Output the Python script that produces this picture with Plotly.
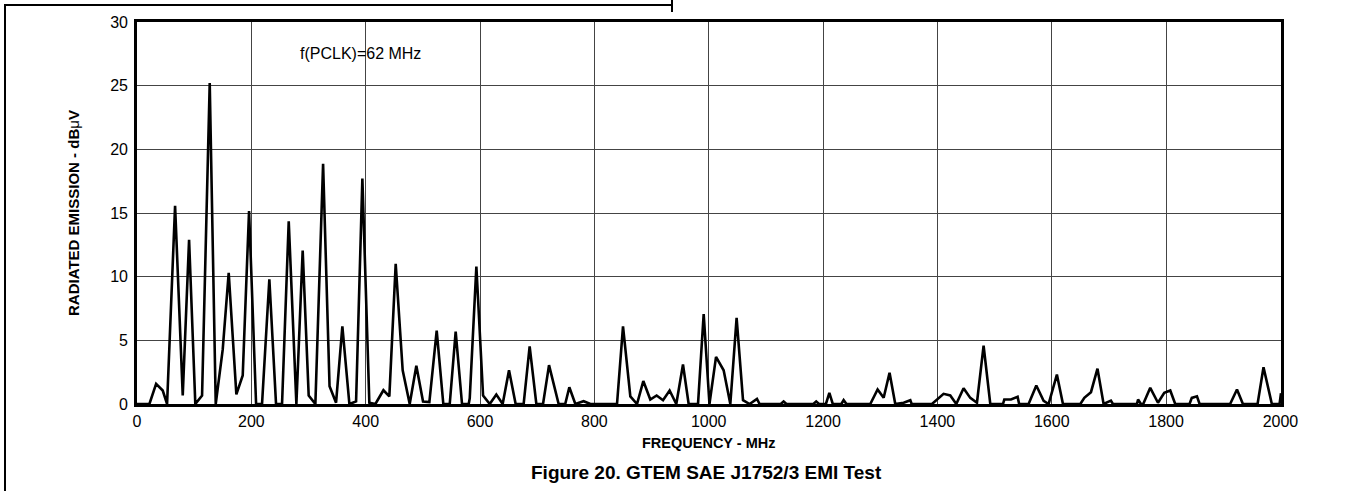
import plotly.graph_objects as go

# ---- data ----
freq_mhz = [
    0, 21.7, 33.4, 45, 52.6, 66.6, 80, 91.1, 102, 113.8, 127.2, 137.7, 149.9, 160.4,
    173.8, 184.9, 196, 208.3, 218.7, 231.5, 243.2, 253.7, 265.4, 278.8, 289.8, 300.3,
    312, 325.5, 336.8, 348.2, 359.2, 371.5, 383.2, 394.2, 406.4, 417, 431, 441.4,
    452.5, 464.7, 477, 488.6, 500.3, 511.4, 524.2, 535.8, 547, 557.4, 568.5, 580.2,
    582, 593.6, 605.3, 617, 628.5, 639.6, 650.7, 662.3, 676.3, 686.8, 698.5, 710.2,
    720.7, 737.5, 749, 756.2, 766.7, 781.2, 793, 839.6, 850.1, 862.9, 874.6, 885.6,
    897.8, 908.9, 920.1, 931.6, 943.3, 955, 964.9, 981.3, 991.2, 1001.3, 1012.8,
    1026.1, 1037.8, 1048.8, 1060, 1071.5, 1084.4, 1089, 1126, 1131, 1136, 1183, 1188,
    1193, 1205, 1211, 1217, 1232, 1236, 1241, 1282.6, 1295.4, 1306, 1316.3, 1326.3,
    1341, 1352.6, 1355, 1390.5, 1410.8, 1422.5, 1433, 1445.8, 1457.5, 1469.2, 1480.8,
    1492.5, 1514.7, 1517, 1528.7, 1540.3, 1543, 1559.5, 1573, 1585.8, 1594.5, 1609,
    1619.6, 1650, 1657, 1668.6, 1680, 1690.7, 1703.5, 1707, 1749, 1751, 1756, 1760,
    1772.3, 1785.8, 1796.8, 1807.3, 1816, 1841, 1845, 1854, 1858.6, 1912, 1924, 1934.4,
    1960, 1970.4, 1985, 1998.5, 2001,
]
emission_dbuv = [
    0, 0, 1.58, 1.06, 0, 15.57, 0.67, 12.9, 0, 0.67, 25.2, 0, 4.27, 10.3,
    0.75, 2.24, 15.15, 0, 0, 9.8, 0, 0, 14.34, 0, 12.06, 0.67,
    0, 18.86, 1.4, 0.1, 6.1, 0, 0.2, 17.7, 0.1, 0, 1.08, 0.6,
    11.0, 2.65, 0, 3.0, 0.2, 0.15, 5.76, 0, 0, 5.69, 0, 0,
    0.45, 10.8, 0.67, 0, 0.75, 0, 2.65, 0, 0, 4.53, 0, 0,
    3.05, 0, 0, 1.32, 0, 0.22, 0, 0, 6.1, 0.6, 0, 1.8,
    0.35, 0.67, 0.3, 1.06, 0, 3.1, 0, 0, 7.07, 0, 3.7,
    2.65, 0, 6.76, 0.3, 0, 0.4, 0, 0, 0.2, 0, 0, 0.2,
    0, 0, 0.88, 0, 0, 0.3, 0, 0, 1.14, 0.49, 2.45, 0,
    0.1, 0.3, 0, 0, 0.8, 0.67, 0, 1.24, 0.48, 0.1, 4.59,
    0, 0, 0.35, 0.35, 0.56, 0, 0, 1.45, 0.25, 0, 2.31,
    0, 0, 0.48, 0.93, 2.78, 0, 0.27, 0, 0, 0.35, 0, 0,
    1.27, 0.1, 0.88, 1.06, 0, 0, 0.48, 0.6, 0, 0, 1.14, 0,
    0, 2.89, 0, 0, 0.85,
]
x_ticks = [0, 200, 400, 600, 800, 1000, 1200, 1400, 1600, 1800, 2000]
y_ticks = [0, 5, 10, 15, 20, 25, 30]

FONT = "Liberation Sans, Arial, sans-serif"
W, H = 1349, 491
ML, MR, MT, MB = 137, 68, 22, 87
PW, PH = W - ML - MR, H - MT - MB


def px(xp):
    return (xp - ML) / PW


def py(yp):
    return (H - MB - yp) / PH


fig = go.Figure()
fig.add_trace(go.Scatter(
    x=freq_mhz, y=emission_dbuv, mode="lines",
    line=dict(color="black", width=2.6), hoverinfo="skip", showlegend=False,
))

axis_common = dict(
    showline=True, mirror=True, linecolor="black", linewidth=2.6,
    showgrid=True, gridcolor="#444444", gridwidth=1.1, zeroline=False,
    ticks="", tickfont=dict(family=FONT, size=16, color="black"),
)
fig.update_xaxes(range=[0, 2001], tickmode="array", tickvals=x_ticks,
                 ticklabelstandoff=1, **axis_common)
fig.update_yaxes(range=[0, 30], tickmode="array", tickvals=y_ticks,
                 ticklabelstandoff=3, **axis_common)

shapes = [
    dict(type="line", xref="paper", yref="paper", x0=px(5), x1=px(5), y0=py(5), y1=py(H + 2),
         line=dict(color="black", width=2)),
    dict(type="line", xref="paper", yref="paper", x0=px(4), x1=px(672), y0=py(5), y1=py(5),
         line=dict(color="black", width=2)),
    dict(type="line", xref="paper", yref="paper", x0=px(672), x1=px(672), y0=py(-2), y1=py(12),
         line=dict(color="black", width=2)),
]

annotations = [
    dict(text="f(PCLK)=62 MHz", x=282, y=27.5, xref="x", yref="y", xanchor="left",
         yanchor="middle", showarrow=False, font=dict(family=FONT, size=16, color="black")),
    dict(text="<b>RADIATED EMISSION - dB</b>μ<b>V</b>", x=px(73), y=py(213), xref="paper",
         yref="paper", textangle=-90, showarrow=False, xanchor="center", yanchor="middle",
         font=dict(family=FONT, size=15, color="black")),
    dict(text="<b>FREQUENCY - MHz</b>", x=px(708), y=py(443), xref="paper", yref="paper",
         showarrow=False, xanchor="center", yanchor="middle",
         font=dict(family=FONT, size=14.5, color="black")),
    dict(text="<b>Figure 20. GTEM SAE J1752/3 EMI Test</b>", x=px(706), y=py(472),
         xref="paper", yref="paper", showarrow=False, xanchor="center", yanchor="middle",
         font=dict(family=FONT, size=19, color="black")),
]

fig.update_layout(
    width=W, height=H, margin=dict(l=ML, r=MR, t=MT, b=MB),
    paper_bgcolor="white", plot_bgcolor="white",
    shapes=shapes, annotations=annotations, showlegend=False,
)

fig.write_html(
    "out.html",
    config={"displayModeBar": False},
    post_script="document.body.style.margin='0px';document.body.style.overflow='hidden';",
)
